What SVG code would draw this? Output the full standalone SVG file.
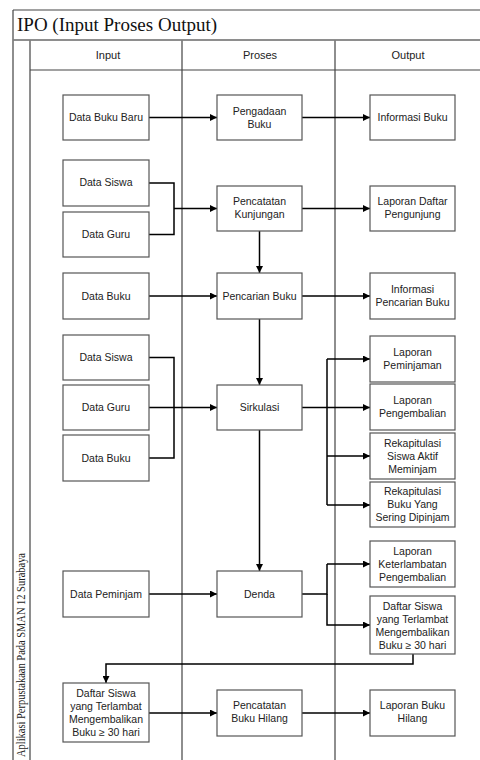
<svg xmlns="http://www.w3.org/2000/svg" width="480" height="760" viewBox="0 0 480 760">
<defs>
<marker id="ah" viewBox="0 0 10 10" refX="10" refY="5" markerWidth="7" markerHeight="7" markerUnits="userSpaceOnUse" orient="auto">
<path d="M0,0 L10,5 L0,10 z" fill="#000"/>
</marker>
<style>
.frame{fill:none;stroke:#444;stroke-width:1.2}
.box rect{fill:#fff;stroke:#555;stroke-width:1.2}
.box text{font-family:"Liberation Sans",Arial,sans-serif;font-size:10.5px;fill:#222;text-anchor:middle}
.hdr{font-family:"Liberation Sans",Arial,sans-serif;font-size:11px;fill:#222;text-anchor:middle}
.conn path{fill:none;stroke:#000;stroke-width:1.5}
.arr{marker-end:url(#ah)}
</style>
</defs>
<rect width="480" height="760" fill="#fff"/>
<g id="frame">
<path class="frame" d="M13,10 H480 M13,10 V760 M13,40 H480 M30,40 V760 M30,70 H480 M182,40 V760 M335,40 V760"/>
<path d="M13,40 H480" stroke="#888" stroke-width="1.5"/>
<text x="17" y="31" font-family="Liberation Serif,'Times New Roman',serif" font-size="19" fill="#111">IPO (Input Proses Output)</text>
<text class="hdr" x="108" y="59" font-family="Liberation Serif,serif" font-size="12.5">Input</text>
<text class="hdr" x="260" y="59">Proses</text>
<text class="hdr" x="408" y="59" font-size="12.5">Output</text>
<text transform="translate(25,553) rotate(-90)" text-anchor="end" font-family="Liberation Serif,'Times New Roman',serif" font-size="11.5" textLength="204" lengthAdjust="spacingAndGlyphs" fill="#222">Aplikasi Perpustakaan Pada SMAN 12 Surabaya</text>
</g>
<g id="conn" class="conn">
<path class="arr" d="M149,117.5 H217"/>
<path class="arr" d="M302,117.5 H370"/>
<path d="M149,183 H174 V234.5 H149"/>
<path class="arr" d="M174,208.5 H217"/>
<path class="arr" d="M302,208.5 H370"/>
<path class="arr" d="M259.5,231 V273"/>
<path class="arr" d="M149,296 H217"/>
<path class="arr" d="M302,296 H370"/>
<path class="arr" d="M259.5,319 V385"/>
<path d="M149,357.5 H174 V458 H149"/>
<path class="arr" d="M149,407.5 H217"/>
<path d="M302,407.5 H327"/>
<path class="arr" d="M327,407.5 H370"/>
<path class="arr" d="M327,359 H370"/>
<path class="arr" d="M327,456 H370"/>
<path d="M327,505 V359"/>
<path class="arr" d="M327,505 H370"/>
<path class="arr" d="M259.5,430 V571"/>
<path class="arr" d="M149,594 H217"/>
<path d="M302,594 H327 V564"/>
<path class="arr" d="M327,564 H370"/>
<path class="arr" d="M327,594 V625 H370"/>
<path class="arr" d="M413,654 V664 H106 V683"/>
<path class="arr" d="M149,713 H217"/>
<path class="arr" d="M302,713 H370"/>
</g>
<g id="n_databukubaru" class="box"><rect x="63" y="95" width="86" height="45"/><text x="106" y="121">Data Buku Baru</text></g>
<g id="n_pengadaan" class="box"><rect x="217" y="95" width="85" height="45"/><text x="259.5" y="115">Pengadaan</text><text x="259.5" y="128">Buku</text></g>
<g id="n_infobuku" class="box"><rect x="370" y="95" width="85" height="45"/><text x="412.5" y="121">Informasi Buku</text></g>
<g id="n_datasiswa1" class="box"><rect x="63" y="160" width="86" height="46"/><text x="106" y="186">Data Siswa</text></g>
<g id="n_dataguru1" class="box"><rect x="63" y="212" width="86" height="45"/><text x="106" y="238">Data Guru</text></g>
<g id="n_pencatatankunj" class="box"><rect x="217" y="186" width="85" height="45"/><text x="259.5" y="205">Pencatatan</text><text x="259.5" y="218">Kunjungan</text></g>
<g id="n_lapdaftar" class="box"><rect x="370" y="186" width="85" height="45"/><text x="412.5" y="205">Laporan Daftar</text><text x="412.5" y="218">Pengunjung</text></g>
<g id="n_databuku1" class="box"><rect x="63" y="273" width="86" height="46"/><text x="106" y="300">Data Buku</text></g>
<g id="n_pencarian" class="box"><rect x="217" y="273" width="85" height="46"/><text x="259.5" y="300">Pencarian Buku</text></g>
<g id="n_infopencarian" class="box"><rect x="370" y="273" width="85" height="46"/><text x="412.5" y="293">Informasi</text><text x="412.5" y="306">Pencarian Buku</text></g>
<g id="n_datasiswa2" class="box"><rect x="63" y="335" width="86" height="45"/><text x="106" y="361">Data Siswa</text></g>
<g id="n_dataguru2" class="box"><rect x="63" y="385" width="86" height="45"/><text x="106" y="411">Data Guru</text></g>
<g id="n_databuku2" class="box"><rect x="63" y="435" width="86" height="46"/><text x="106" y="462">Data Buku</text></g>
<g id="n_sirkulasi" class="box"><rect x="217" y="385" width="85" height="45"/><text x="259.5" y="411">Sirkulasi</text></g>
<g id="n_lappeminjaman" class="box"><rect x="370" y="336" width="85" height="46"/><text x="412.5" y="356">Laporan</text><text x="412.5" y="369">Peminjaman</text></g>
<g id="n_lappengembalian" class="box"><rect x="370" y="384" width="85" height="46"/><text x="412.5" y="404">Laporan</text><text x="412.5" y="417">Pengembalian</text></g>
<g id="n_rekapsiswa" class="box"><rect x="370" y="433" width="85" height="46"/><text x="412.5" y="447">Rekapitulasi</text><text x="412.5" y="460">Siswa Aktif</text><text x="412.5" y="473">Meminjam</text></g>
<g id="n_rekapbuku" class="box"><rect x="370" y="482" width="85" height="45"/><text x="412.5" y="495">Rekapitulasi</text><text x="412.5" y="508">Buku Yang</text><text x="412.5" y="521">Sering Dipinjam</text></g>
<g id="n_datapeminjam" class="box"><rect x="63" y="571" width="86" height="46"/><text x="106" y="598">Data Peminjam</text></g>
<g id="n_denda" class="box"><rect x="217" y="571" width="85" height="46"/><text x="259.5" y="598">Denda</text></g>
<g id="n_lapketerlambatan" class="box"><rect x="370" y="541" width="85" height="46"/><text x="412.5" y="555">Laporan</text><text x="412.5" y="568">Keterlambatan</text><text x="412.5" y="581">Pengembalian</text></g>
<g id="n_daftarsiswa_out" class="box"><rect x="370" y="596" width="85" height="58"/><text x="412.5" y="610">Daftar Siswa</text><text x="412.5" y="623">yang Terlambat</text><text x="412.5" y="636">Mengembalikan</text><text x="412.5" y="649">Buku ≥ 30 hari</text></g>
<g id="n_daftarsiswa_in" class="box"><rect x="63" y="683" width="86" height="59"/><text x="106" y="697">Daftar Siswa</text><text x="106" y="710">yang Terlambat</text><text x="106" y="723">Mengembalikan</text><text x="106" y="736">Buku ≥ 30 hari</text></g>
<g id="n_pencatatanhilang" class="box"><rect x="217" y="690" width="85" height="46"/><text x="259.5" y="709">Pencatatan</text><text x="259.5" y="722">Buku Hilang</text></g>
<g id="n_lapbukuhilang" class="box"><rect x="370" y="690" width="85" height="46"/><text x="412.5" y="709">Laporan Buku</text><text x="412.5" y="722">Hilang</text></g>
</svg>
